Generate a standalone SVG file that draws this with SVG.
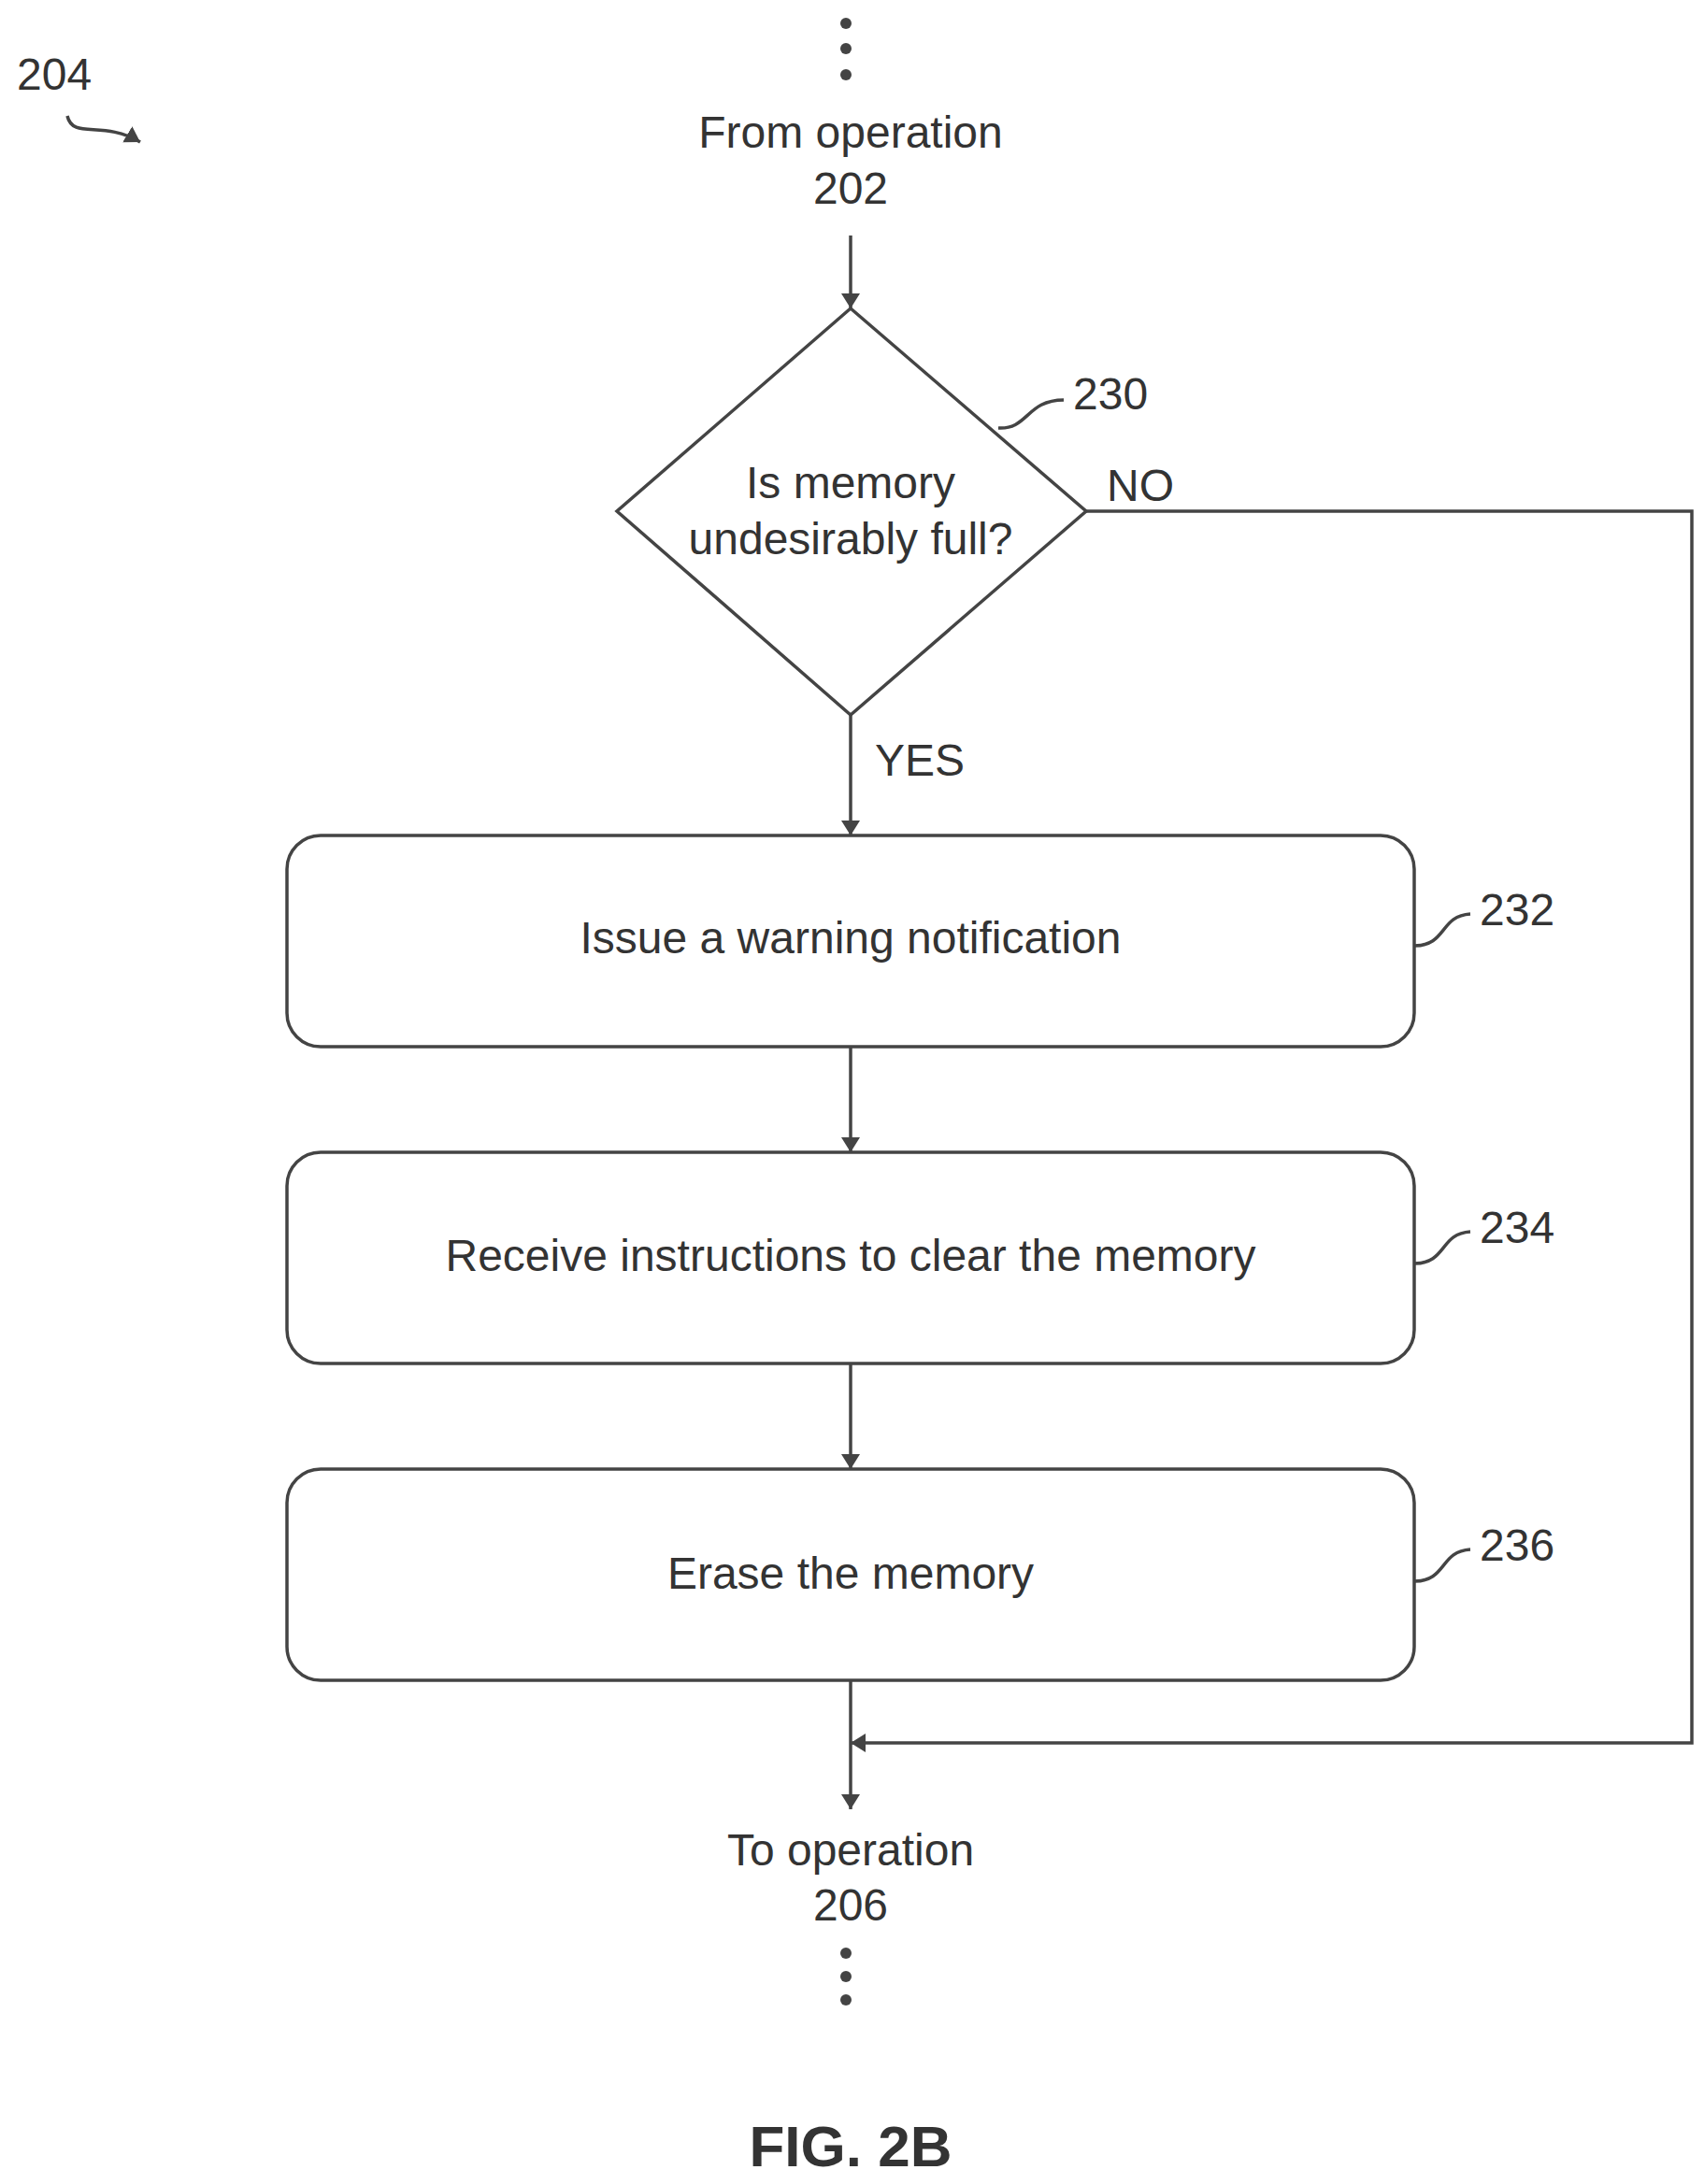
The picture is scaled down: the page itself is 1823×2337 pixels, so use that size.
<svg xmlns="http://www.w3.org/2000/svg" width="1823" height="2337" viewBox="0 0 1823 2337">
<style>
text{font-family:"Liberation Sans",Arial,sans-serif;font-size:48px;fill:#333;text-anchor:middle}
.ref{text-anchor:start}
.shape{fill:none;stroke:#444;stroke-width:3.5}
.line{fill:none;stroke:#444;stroke-width:3.5}
.dot{fill:#444}
</style>
<defs>
<marker id="ah" viewBox="0 0 16 24" refX="16" refY="12" markerWidth="16" markerHeight="24" markerUnits="userSpaceOnUse" orient="auto">
<path d="M0,2 L16,12 L0,22 Z" fill="#444"/>
</marker>
</defs>
<rect width="1823" height="2337" fill="#fff"/>
<g id="label204">
<text class="ref" x="18" y="96">204</text>
<path class="line" d="M72,124 C78,150 110,128 150,152" marker-end="url(#ah)"/>
</g>
<g id="start">
<circle class="dot" cx="905" cy="25" r="6"/><circle class="dot" cx="905" cy="52" r="6"/><circle class="dot" cx="905" cy="80" r="6"/>
<text x="910" y="158">From operation</text>
<text x="910" y="218">202</text>
</g>
<g id="n230">
<polygon class="shape" points="910,330 1162,547 910,765 660,547"/>
<text x="910" y="533">Is memory</text>
<text x="910" y="593">undesirably full?</text>
<path class="line" d="M1068,458 C1100,460 1098,428 1138,428"/>
<text class="ref" x="1148" y="438">230</text>
</g>
<g id="n232">
<rect class="shape" x="307" y="894" width="1206" height="226" rx="36"/>
<text x="910" y="1020">Issue a warning notification</text>
<path class="line" d="M1513,1012 C1548,1012 1540,980 1573,978"/>
<text class="ref" x="1583" y="990">232</text>
</g>
<g id="n234">
<rect class="shape" x="307" y="1233" width="1206" height="226" rx="36"/>
<text x="910" y="1360">Receive instructions to clear the memory</text>
<path class="line" d="M1513,1352 C1548,1352 1540,1320 1573,1318"/>
<text class="ref" x="1583" y="1330">234</text>
</g>
<g id="n236">
<rect class="shape" x="307" y="1572" width="1206" height="226" rx="36"/>
<text x="910" y="1700">Erase the memory</text>
<path class="line" d="M1513,1692 C1548,1692 1540,1660 1573,1658"/>
<text class="ref" x="1583" y="1670">236</text>
</g>
<g id="end">
<text x="910" y="1996">To operation</text>
<text x="910" y="2055">206</text>
<circle class="dot" cx="905" cy="2090" r="6"/><circle class="dot" cx="905" cy="2115" r="6"/><circle class="dot" cx="905" cy="2140" r="6"/>
</g>
<g id="caption">
<text x="910" y="2318" style="font-weight:bold;font-size:62px">FIG. 2B</text>
</g>
<g id="connectors">
<path class="line" d="M910,252 L910,330" marker-end="url(#ah)"/>
<path class="line" d="M910,765 L910,894" marker-end="url(#ah)"/>
<text class="ref" x="936" y="830">YES</text>
<path class="line" d="M1162,547 L1810,547 L1810,1865 L910,1865" marker-end="url(#ah)"/>
<text class="ref" x="1184" y="536">NO</text>
<path class="line" d="M910,1120 L910,1233" marker-end="url(#ah)"/>
<path class="line" d="M910,1459 L910,1572" marker-end="url(#ah)"/>
<path class="line" d="M910,1798 L910,1936" marker-end="url(#ah)"/>
</g>
</svg>
